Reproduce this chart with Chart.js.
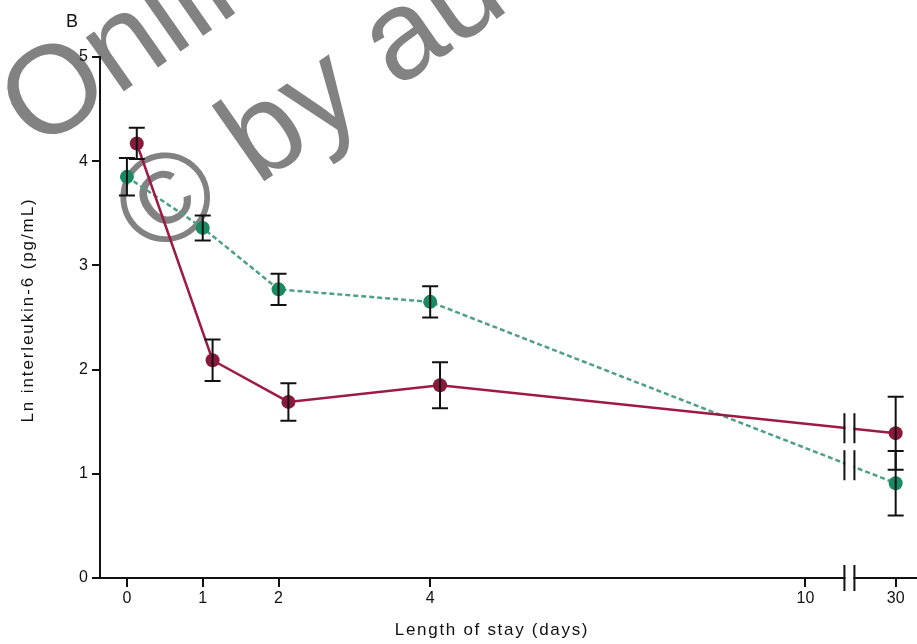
<!DOCTYPE html>
<html><head><meta charset="utf-8">
<script src="https://cdn.jsdelivr.net/npm/chart.js@4"></script>
<style>html,body{margin:0;padding:0;background:#fff}</style>
</head><body>
<canvas id="c" width="917" height="644" style="display:block;width:917px;height:644px"></canvas>
<script>
// ---- data ----
const days = [0, 1, 2, 4, 30];
const tickDays = [0, 1, 2, 4, 10, 30];
const tickLabels = ['0', '1', '2', '4', '10', '30'];
const yTicks = [0, 1, 2, 3, 4, 5];
const redMean = [4.17, 2.09, 1.69, 1.85, 1.39];
const redErr = [0.15, 0.20, 0.18, 0.22, 0.35];
const greenMean = [3.85, 3.36, 2.77, 2.65, 0.91];
const greenErr = [0.18, 0.12, 0.15, 0.15, 0.31];
const xTitle = 'Length of stay (days)';
const yTitle = 'Ln interleukin-6 (pg/mL)';

// ---- layout helpers (broken, non-linear day axis) ----
function dayToAxis(d) {
  if (d <= 4) return d;
  if (d <= 10) return 4 + (d - 4) * (4.95 / 6);
  return 8.95 + (d - 10) * (1.19 / 20);
}
const redShift = 0.13;
const axisBreak = 9.53;
const FONT = '"Liberation Sans", Arial, sans-serif';

const redPts = days.map((d, i) => ({x: dayToAxis(d) + (d < 10 ? redShift : 0), y: redMean[i]}));
const greenPts = days.map((d, i) => ({x: dayToAxis(d), y: greenMean[i]}));

const watermark = {
  id: 'watermark',
  beforeDraw(chart) {
    const ctx = chart.ctx;
    const ang = -35 * Math.PI / 180;
    ctx.save();
    ctx.fillStyle = '#828282';
    ctx.font = '125px "Liberation Sans", Arial, sans-serif';
    ctx.textBaseline = 'alphabetic';
    ctx.translate(37, 152); ctx.rotate(ang);
    ctx.fillText('Online', 0, 0);
    ctx.restore();
    ctx.save();
    ctx.fillStyle = '#828282';
    ctx.font = '127px "Liberation Sans", Arial, sans-serif';
    ctx.translate(152, 260); ctx.rotate(ang);
    ctx.fillText('\u00A9 by author', 0, 0);
    ctx.restore();
  }
};

const errorBars = {
  id: 'errorBars',
  afterDatasetsDraw(chart) {
    const {ctx, scales: {x, y}} = chart;
    ctx.save();
    ctx.strokeStyle = '#111'; ctx.lineWidth = 2;
    chart.data.datasets.forEach(ds => {
      ds.data.forEach((p, j) => {
        const px = x.getPixelForValue(p.x);
        const t = y.getPixelForValue(p.y + ds.errors[j]);
        const b = y.getPixelForValue(p.y - ds.errors[j]);
        ctx.beginPath();
        ctx.moveTo(px, t); ctx.lineTo(px, b);
        ctx.moveTo(px - 8, t); ctx.lineTo(px + 8, t);
        ctx.moveTo(px - 8, b); ctx.lineTo(px + 8, b);
        ctx.stroke();
      });
    });
    ctx.restore();
  }
};

const extras = {
  id: 'extras',
  afterDraw(chart) {
    const {ctx, scales: {x, y}, chartArea} = chart;
    // extend the x axis line to the right edge
    ctx.save();
    ctx.strokeStyle = '#111'; ctx.lineWidth = 2;
    ctx.beginPath(); ctx.moveTo(chartArea.right - 1, chartArea.bottom); ctx.lineTo(chart.width, chartArea.bottom); ctx.stroke();
    ctx.restore();
    const bx = x.getPixelForValue(axisBreak);
    function brk(cy, h) {
      ctx.fillStyle = '#fff';
      ctx.fillRect(bx - 4, cy - h / 2 + 3, 8, h - 6);
      ctx.strokeStyle = '#111'; ctx.lineWidth = 2;
      ctx.beginPath();
      ctx.moveTo(bx - 5, cy - h / 2); ctx.lineTo(bx - 5, cy + h / 2);
      ctx.moveTo(bx + 5, cy - h / 2); ctx.lineTo(bx + 5, cy + h / 2);
      ctx.stroke();
    }
    brk(chartArea.bottom, 26);
    chart.data.datasets.forEach(ds => {
      const a = ds.data[3], b = ds.data[4];
      const ax = x.getPixelForValue(a.x), ay = y.getPixelForValue(a.y);
      const cx = x.getPixelForValue(b.x), cy = y.getPixelForValue(b.y);
      const yy = ay + (cy - ay) * (bx - ax) / (cx - ax);
      brk(yy, 30);
    });
    ctx.save();
    ctx.fillStyle = '#111';
    ctx.font = '17px ' + FONT;
    ctx.letterSpacing = '1.7px';
    ctx.textAlign = 'center'; ctx.textBaseline = 'middle';
    ctx.fillText(xTitle, 492, 630);
    ctx.save();
    ctx.translate(28, 310); ctx.rotate(-Math.PI / 2);
    ctx.letterSpacing = '1.9px';
    ctx.fillText(yTitle, 0, 0);
    ctx.restore();
    ctx.letterSpacing = '0px';
    ctx.font = '18px ' + FONT;
    ctx.fillText('B', 72, 22);
    ctx.restore();
  }
};

new Chart(document.getElementById('c'), {
  type: 'scatter',
  data: {
    datasets: [
      {
        data: redPts, errors: redErr, showLine: true,
        borderColor: '#9e1a45', borderWidth: 2.5,
        pointBackgroundColor: '#8a1a3c', pointBorderWidth: 0, pointRadius: 7,
        order: 0
      },
      {
        data: greenPts, errors: greenErr, showLine: true,
        borderColor: '#4f9f88', borderWidth: 2.5, borderDash: [5, 3],
        pointBackgroundColor: '#1b8a62', pointBorderWidth: 0, pointRadius: 7,
        order: 1
      }
    ]
  },
  options: {
    responsive: false, animation: false, devicePixelRatio: 1,
    layout: {padding: {top: 57, left: 0, right: 0, bottom: 0}},
    plugins: {legend: {display: false}, tooltip: {enabled: false}},
    scales: {
      x: {
        type: 'linear', min: -0.355, max: 10.329,
        afterBuildTicks: s => { s.ticks = tickDays.map(d => ({value: dayToAxis(d)})); },
        afterFit: s => { s.height = 66; },
        ticks: {callback: (v, i) => tickLabels[i], autoSkip: false, maxRotation: 0, color: '#111',
                font: {family: FONT, size: 16}, padding: 2},
        grid: {drawOnChartArea: false, drawTicks: true, tickLength: 9, color: '#111', lineWidth: 2},
        border: {display: true, color: '#111', width: 2}
      },
      y: {
        type: 'linear', min: 0, max: 5,
        afterBuildTicks: s => { s.ticks = yTicks.map(v => ({value: v})); },
        afterFit: s => { s.width = 100; },
        ticks: {color: '#111', font: {family: FONT, size: 16}, padding: 4},
        grid: {drawOnChartArea: false, drawTicks: true, tickLength: 8, color: '#111', lineWidth: 2},
        border: {display: true, color: '#111', width: 2}
      }
    }
  },
  plugins: [watermark, errorBars, extras]
});
</script>
</body></html>
